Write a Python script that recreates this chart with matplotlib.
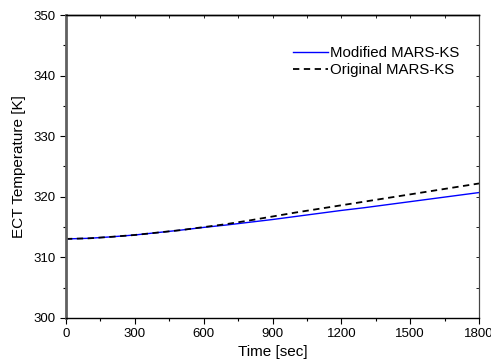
import matplotlib
matplotlib.use("Agg")
import matplotlib.pyplot as plt
from matplotlib.ticker import MultipleLocator

time_s = [0, 100, 200, 300, 400, 500, 600, 700, 800, 900, 1000, 1100, 1200, 1300, 1400, 1500, 1600, 1700, 1800]
modified = [313.05, 313.15, 313.4, 313.7, 314.1, 314.5, 314.95, 315.35, 315.8, 316.25, 316.75, 317.25, 317.75, 318.2, 318.7, 319.2, 319.7, 320.2, 320.7]
original = [313.05, 313.15, 313.4, 313.7, 314.1, 314.5, 315.0, 315.5, 316.1, 316.75, 317.4, 318.0, 318.6, 319.2, 319.8, 320.4, 321.0, 321.6, 322.2]

plt.rcParams['font.family'] = ['Liberation Sans', 'DejaVu Sans']

fig = plt.figure(figsize=(4.91, 3.64), dpi=100)
ax = fig.add_axes([66/491, 1-318/364, (479-66)/491, (318-15)/364])

ax.plot(time_s, modified, color='#0000ff', lw=1.0, label='Modified MARS-KS')
ax.plot(time_s, original, color='black', lw=1.3, ls=(0, (3.5, 2.5)), label='Original MARS-KS')

ax.set_xlim(0, 1800)
ax.set_ylim(300, 350)
ax.xaxis.set_major_locator(MultipleLocator(300))
ax.xaxis.set_minor_locator(MultipleLocator(150))
ax.yaxis.set_major_locator(MultipleLocator(10))
ax.yaxis.set_minor_locator(MultipleLocator(5))

ax.tick_params(which='both', direction='out', labelsize=9.5, top=False, right=False)
ax.tick_params(which='major', length=4, width=0.8)
ax.tick_params(which='minor', length=2.5, width=0.8)

ax2 = ax.secondary_xaxis('top')
ax2.xaxis.set_major_locator(MultipleLocator(300))
ax2.xaxis.set_minor_locator(MultipleLocator(150))
ax2.tick_params(which='both', direction='in', labeltop=False, length=2.5, width=0.6)
ax2.spines['top'].set_linewidth(1.0)
ax3 = ax.secondary_yaxis('right')
ax3.yaxis.set_major_locator(MultipleLocator(10))
ax3.yaxis.set_minor_locator(MultipleLocator(5))
ax3.tick_params(which='both', direction='in', labelright=False, length=2.5, width=0.6)
ax3.spines['right'].set_color('#444444')

ax.spines['left'].set_linewidth(2.0)
ax.spines['left'].set_color('#606060')
ax.spines['bottom'].set_linewidth(1.0)
ax.spines['top'].set_linewidth(1.0)
ax.spines['right'].set_color('#444444')

ax.set_xlabel('Time [sec]', fontsize=11, labelpad=3)
ax.set_ylabel('ECT Temperature [K]', fontsize=11, labelpad=5)

leg = ax.legend(loc='upper left', bbox_to_anchor=((293-66)/413, (318-46)/303), frameon=False, fontsize=10.8,
                handlelength=2.3, handletextpad=0.15, labelspacing=0.2, borderaxespad=0, borderpad=0)

fig.savefig('out.png', dpi=100)
